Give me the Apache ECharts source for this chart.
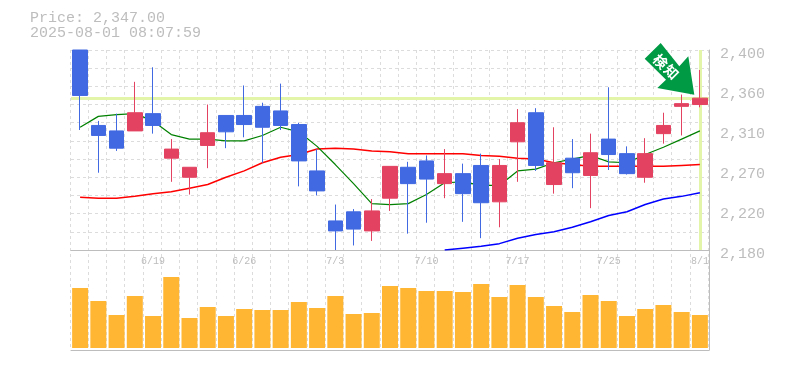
<!DOCTYPE html>
<html>
<head>
<meta charset="utf-8">
<style>html,body{margin:0;padding:0;background:#fff}#c{width:785px;height:370px}</style>
<script src="https://cdn.jsdelivr.net/npm/echarts@6/dist/echarts.min.js"></script>
</head>
<body>
<div id="c"></div>
<script>
const categories = ['6/13','6/16','6/17','6/18','6/19','6/20','6/23','6/24','6/25','6/26','6/27','6/30','7/1','7/2','7/3','7/4','7/7','7/8','7/9','7/10','7/11','7/14','7/15','7/16','7/17','7/18','7/22','7/23','7/24','7/25','7/28','7/29','7/30','7/31','8/1'];
const opens  = [2400,2317,2311,2311,2330,2281,2260,2295,2328,2328,2338,2333,2318,2267,2212,2222,2201,2237,2271,2278,2253,2264,2273,2233,2299,2331,2252,2281,2262,2302,2286,2260,2308,2338,2340];
const closes = [2350,2306,2292,2331,2317,2291,2271,2309,2310,2318,2315,2317,2278,2245,2201,2203,2223,2272,2253,2258,2264,2242,2232,2273,2320,2273,2276,2265,2287,2285,2264,2286,2317,2341,2347];
const lows   = [2312,2265,2289,2311,2308,2255,2241,2270,2292,2304,2276,2312,2250,2240,2180,2185,2190,2223,2198,2210,2237,2211,2193,2205,2255,2267,2242,2248,2226,2268,2263,2254,2297,2306,2337];
const highs  = [2400,2322,2330,2365,2381,2302,2271,2340,2328,2361,2342,2363,2320,2291,2230,2225,2236,2272,2277,2284,2291,2275,2286,2280,2335,2336,2315,2302,2308,2359,2294,2303,2331,2351,2378];
const maShort = [2315,2327,2329,2330,2322,2307,2302,2302,2300,2300,2306,2315,2310,2294,2274,2253,2231,2230,2231,2241,2254,2255,2251,2251,2267,2269,2276,2280,2284,2277,2276,2285,2293,2302,2311];
const maMid   = [2238,2237,2237,2239,2242,2244,2248,2252,2260,2267,2276,2282,2285,2291,2292,2291,2289,2288,2286,2286,2286,2286,2284,2283,2281,2280,2276,2274,2272,2272,2272,2272,2272,2273,2274];
const maLong  = [null,null,null,null,null,null,null,null,null,null,null,null,null,null,null,null,null,null,null,null,2180,2182,2184,2187,2193,2197,2200,2205,2211,2218,2222,2230,2236,2239,2243];
const volumes = [60,47,33,52,32,71,30,41,32,39,38,38,46,40,52,34,35,62,60,57,57,56,64,51,63,51,42,36,53,47,32,39,43,36,33];
const yTickValues = [2180,2224,2268,2312,2356,2400];
const yTickLabels = ['2,180','2,220','2,270','2,310','2,360','2,400'];
const lastPrice = 2347;
const lastDate = '8/1';
const titleLines = ['Price: 2,347.00','2025-08-01 08:07:59'];
const badgeGlyphs = ['検','知'];

const candles = categories.map((_, i) => [opens[i], closes[i], lows[i], highs[i]]);
const MONO = '"Liberation Mono", monospace';
const GREY = '#bdbdbd';
const DASH = '#dcdcdc';
const LIME = '#e2f5a9';

const chart = echarts.init(document.getElementById('c'), null, {renderer: 'canvas'});
chart.setOption({
  animation: false,
  backgroundColor: '#fff',
  title: {
    text: titleLines.join('\n'), left: 30, top: 11, padding: 0,
    textStyle: {fontFamily: MONO, fontSize: 15, fontWeight: 'normal', color: GREY, lineHeight: 15}
  },
  grid: [
    {left: 70, width: 638, top: 50, height: 300},
    {left: 71, width: 638, top: 50, height: 200},
    {left: 71, width: 638, top: 250, height: 100},
    {left: 71, width: 639, top: 54, height: 200}
  ],
  xAxis: [
    {gridIndex: 0, type: 'category', data: categories, boundaryGap: true,
     axisLine: {show: false}, axisTick: {show: false}, axisLabel: {show: false},
     splitLine: {show: true, interval: 0, lineStyle: {color: DASH, type: [3, 3], width: 1}}},
    {gridIndex: 1, type: 'category', data: categories, boundaryGap: true,
     axisLine: {show: true, onZero: false, lineStyle: {color: GREY, width: 1}}, axisTick: {show: false},
     splitLine: {show: false},
     axisLabel: {show: true, color: GREY, fontFamily: MONO, fontSize: 10, margin: 6,
       interval: (i) => i % 5 === 4}},
    {gridIndex: 2, type: 'category', data: categories, boundaryGap: true,
     axisLine: {show: true, onZero: false, lineStyle: {color: GREY, width: 1}}, axisTick: {show: false},
     axisLabel: {show: false}, splitLine: {show: false}},
    {gridIndex: 3, type: 'category', data: categories, show: false}
  ],
  yAxis: [
    {gridIndex: 0, type: 'value', min: 0, max: 1, show: false, splitLine: {show: false}},
    {gridIndex: 1, type: 'value', position: 'right', min: 2180, max: 2400, interval: 20,
     axisLine: {show: true, lineStyle: {color: GREY, width: 1}}, axisTick: {show: false},
     splitLine: {show: true, lineStyle: {color: DASH, type: [3, 3], width: 1}},
     axisLabel: {show: false}},
    {gridIndex: 2, type: 'value', position: 'right', min: -2, max: 98,
     axisLine: {show: true, lineStyle: {color: GREY, width: 1}}, axisTick: {show: false},
     axisLabel: {show: false}, splitLine: {show: false}},
    {gridIndex: 3, type: 'value', position: 'right', min: 2180, max: 2400, interval: 20,
     axisLine: {show: false}, axisTick: {show: false}, splitLine: {show: false},
     axisLabel: {show: true, customValues: yTickValues, color: GREY, fontFamily: MONO, fontSize: 15,
       margin: 10, formatter: (v) => yTickLabels[yTickValues.indexOf(v)]}}
  ],
  series: [
    {type: 'line', xAxisIndex: 1, yAxisIndex: 1, data: maLong, showSymbol: false, z: 3,
     lineStyle: {color: '#0000ff', width: 1.5}, connectNulls: false, silent: true,
     markLine: {silent: true, symbol: 'none', z: 1, label: {show: false}, animation: false,
       lineStyle: {color: LIME, width: 3, type: 'solid'},
       data: [{yAxis: lastPrice}, {xAxis: lastDate}]}},
    {type: 'line', xAxisIndex: 1, yAxisIndex: 1, data: maMid, showSymbol: false, z: 3,
     lineStyle: {color: '#ff0000', width: 1.5}, silent: true},
    {type: 'line', xAxisIndex: 1, yAxisIndex: 1, data: maShort, showSymbol: false, z: 3,
     lineStyle: {color: '#008000', width: 1.2}, silent: true},
    {type: 'candlestick', xAxisIndex: 1, yAxisIndex: 1, data: candles, barWidth: 15, z: 4,
     itemStyle: {color: '#e34361', color0: '#4169e1', borderColor: '#e34361', borderColor0: '#4169e1', borderWidth: 1}},
    {type: 'bar', xAxisIndex: 2, yAxisIndex: 2, data: volumes, barWidth: 16, z: 4,
     itemStyle: {color: '#ffb733'}}
  ],
  graphic: [
    {type: 'polygon', z: 20,
     shape: {points: [[660.7,43],[644.7,58.7],[666,79.7],[657.3,88],[694.3,94.7],[688.3,56.3],[679.3,66.3]]},
     style: {fill: '#009944'}},
    {type: 'text', z: 21, x: 660.5, y: 61.5, rotation: -Math.PI / 4,
     style: {text: badgeGlyphs[0], fill: '#fff', font: 'bold 14px "Noto Sans CJK JP"', align: 'center', verticalAlign: 'middle'}},
    {type: 'text', z: 21, x: 671.5, y: 72, rotation: -Math.PI / 4,
     style: {text: badgeGlyphs[1], fill: '#fff', font: 'bold 14px "Noto Sans CJK JP"', align: 'center', verticalAlign: 'middle'}}
  ]
});
</script>
</body>
</html>
